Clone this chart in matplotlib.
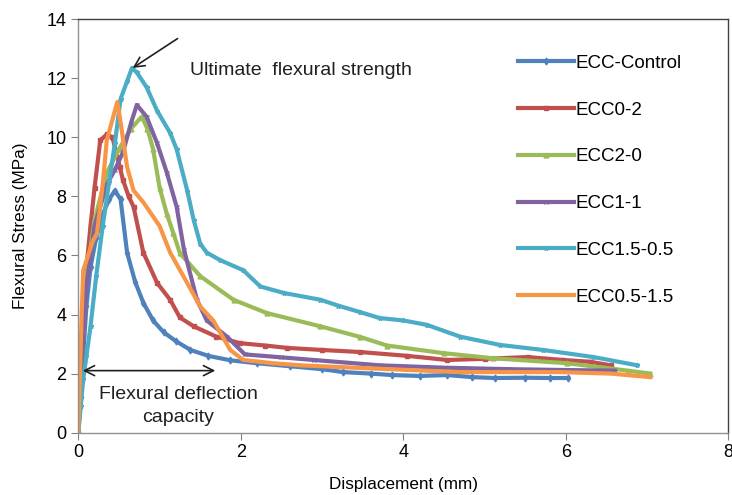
import numpy as np
import matplotlib.pyplot as plt

plt.rcParams['font.family'] = ['Liberation Sans', 'DejaVu Sans']

# ==========================================================
# Data
# ==========================================================

ctrl_x = [0, 0.03, 0.06, 0.1, 0.15, 0.22, 0.3, 0.38, 0.45, 0.52, 0.6, 0.7, 0.8,
          0.92, 1.05, 1.2, 1.38, 1.6, 1.87, 2.2, 2.6, 3.0, 3.26, 3.6, 3.86, 4.2,
          4.54, 4.85, 5.13, 5.5, 5.8, 6.03]
ctrl_y = [0, 1.2, 2.6, 4.3, 5.6, 6.6, 7.4, 7.9, 8.2, 7.9, 6.1, 5.1, 4.4,
          3.8, 3.4, 3.1, 2.8, 2.6, 2.45, 2.35, 2.25, 2.15, 2.05, 2.0, 1.95, 1.92,
          1.95, 1.88, 1.85, 1.86, 1.85, 1.85]

e02_x = [0, 0.03, 0.06, 0.1, 0.15, 0.2, 0.27, 0.35, 0.42, 0.51, 0.55, 0.62, 0.68,
         0.8, 0.97, 1.13, 1.25, 1.42, 1.7, 1.99, 2.3, 2.57, 3.0, 3.47, 4.05,
         4.54, 5.0, 5.53, 5.97, 6.3, 6.55]
e02_y = [0, 2.0, 3.8, 5.6, 7.0, 8.3, 9.9, 10.1, 10.0, 9.0, 8.55, 8.0, 7.65,
         6.1, 5.07, 4.5, 3.9, 3.6, 3.25, 3.03, 2.95, 2.87, 2.8, 2.73, 2.6,
         2.46, 2.5, 2.56, 2.46, 2.4, 2.28]

e20_x = [0, 0.03, 0.06, 0.1, 0.2, 0.35, 0.5, 0.65, 0.78, 0.85, 0.92, 1.0, 1.09,
         1.17, 1.25, 1.5, 1.91, 2.32, 2.98, 3.47, 3.8, 4.5, 5.1, 6.02, 6.76, 7.04]
e20_y = [0, 1.8, 3.5, 5.3, 7.2, 8.8, 9.6, 10.3, 10.7, 10.3, 9.6, 8.3, 7.4,
         6.75, 6.08, 5.3, 4.5, 4.05, 3.6, 3.24, 2.95, 2.69, 2.52, 2.35, 2.1, 2.0]

e11_x = [0, 0.03, 0.06, 0.1, 0.2, 0.35, 0.45, 0.55, 0.65, 0.72, 0.84, 0.97, 1.09,
         1.21, 1.3, 1.46, 1.58, 1.83, 2.05, 2.5, 2.9, 3.71, 4.5, 5.3, 6.0, 6.6]
e11_y = [0, 1.6, 3.2, 5.0, 7.0, 8.4, 8.9, 9.5, 10.5, 11.1, 10.7, 9.8, 8.8,
         7.65, 6.2, 4.5, 3.8, 3.25, 2.65, 2.55, 2.46, 2.28, 2.2, 2.15, 2.12, 2.1]

e155_x = [0, 0.03, 0.06, 0.1, 0.15, 0.22, 0.3, 0.38, 0.45, 0.52, 0.6, 0.66, 0.72,
          0.84, 0.97, 1.13, 1.21, 1.34, 1.42, 1.5, 1.58, 1.74, 2.03, 2.24, 2.53,
          2.98, 3.2, 3.47, 3.71, 4.0, 4.29, 4.7, 5.19, 5.72, 6.34, 6.88]
e155_y = [0, 0.9, 1.8, 2.6, 3.6, 5.3, 7.0, 8.5, 9.8, 11.3, 11.9, 12.35, 12.2,
          11.7, 10.9, 10.15, 9.6, 8.2, 7.2, 6.4, 6.1, 5.85, 5.5, 4.95, 4.73,
          4.5, 4.3, 4.08, 3.88, 3.8, 3.65, 3.25, 2.97, 2.8, 2.56, 2.28]

e0515_x = [0, 0.02, 0.04, 0.06, 0.12, 0.18, 0.23, 0.3, 0.35, 0.42, 0.48, 0.51, 0.6,
           0.68, 0.8, 1.0, 1.13, 1.34, 1.5, 1.66, 1.87, 2.03, 2.4, 2.73, 3.47,
           4.7, 5.93, 6.55, 7.04]
e0515_y = [0, 2.0, 3.9, 5.5, 6.0, 6.5, 6.75, 8.4, 9.9, 10.6, 11.2, 10.7, 9.0,
           8.2, 7.8, 7.0, 6.1, 5.07, 4.27, 3.8, 2.8, 2.46, 2.35, 2.28, 2.19,
           2.05, 2.05, 2.0, 1.88]

labels = ["ECC-Control", "ECC0-2", "ECC2-0", "ECC1-1", "ECC1.5-0.5", "ECC0.5-1.5"]
xs = [ctrl_x, e02_x, e20_x, e11_x, e155_x, e0515_x]
ys = [ctrl_y, e02_y, e20_y, e11_y, e155_y, e0515_y]

warna = ["#4F81BD", "#C0504D", "#9BBB59", "#8064A2", "#4BACC6", "#F79646"]
penanda = ["d", "s", "^", "x", "*", None]

# ==========================================================
# Plot
# ==========================================================

fig = plt.figure(figsize=(7.32, 4.95), dpi=100)
ax = fig.add_axes([0.107, 0.126, 0.888, 0.835])

for i in range(len(labels)):
    ax.plot(xs[i], ys[i], color=warna[i], lw=3.0, marker=penanda[i],
            markersize=3.5, markeredgewidth=1, label=labels[i])

ax.set_xlim(0, 8)
ax.set_ylim(0, 14)
ax.set_xticks([0, 2, 4, 6, 8])
ax.set_yticks(range(0, 15, 2))
ax.tick_params(labelsize=13, length=5, color="#808080", direction="out")
for s in ax.spines.values():
    s.set_color("#404040")
    s.set_linewidth(1)
ax.spines["left"].set_color("#909090")
ax.spines["bottom"].set_color("#909090")

ax.set_xlabel("Displacement (mm)", fontsize=12.3, labelpad=11)
ax.set_ylabel("Flexural Stress (MPa)", fontsize=12.3, labelpad=13)

# Anotasi
ax.annotate("", xy=(0.64, 12.3), xytext=(1.25, 13.4),
            arrowprops=dict(arrowstyle="->", color="#202020", lw=1.2,
                            mutation_scale=18))
ax.text(1.38, 12.25, "Ultimate  flexural strength", fontsize=14,
        va="center", ha="left", color="#202020")

ax.annotate("", xy=(0.02, 2.1), xytext=(1.72, 2.1),
            arrowprops=dict(arrowstyle="<->", color="#202020", lw=1.2,
                            mutation_scale=18))
ax.text(1.23, 1.28, "Flexural deflection", fontsize=14, ha="center",
        va="center", color="#202020")
ax.text(1.23, 0.52, "capacity", fontsize=14, ha="center",
        va="center", color="#202020")

ax.legend(loc="upper left", bbox_to_anchor=(0.651, 0.955), frameon=False,
          fontsize=13.5, handlelength=2.95, handletextpad=0.1,
          labelspacing=1.58, markerscale=1.0)

plt.savefig("out.png", dpi=100)
plt.close()
